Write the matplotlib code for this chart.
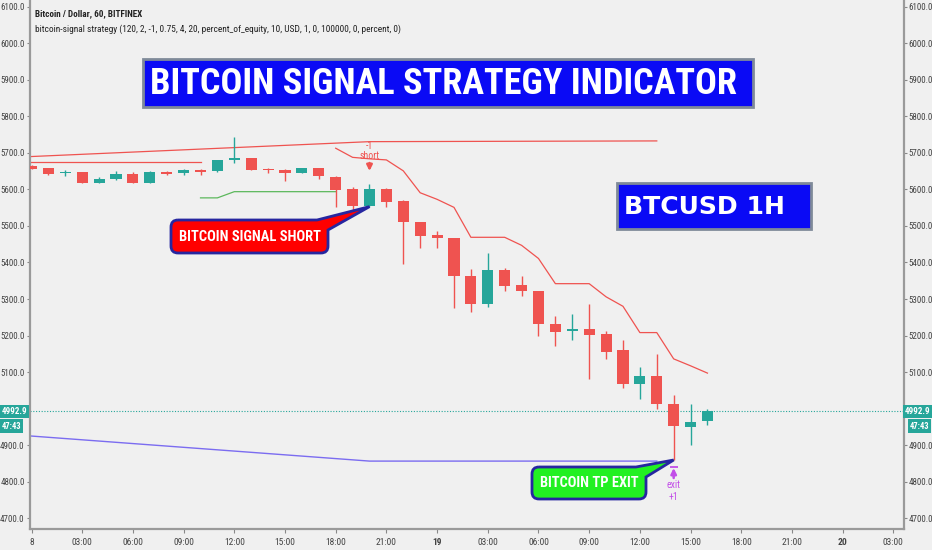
import matplotlib
matplotlib.use('Agg')
import matplotlib.pyplot as plt
from matplotlib import font_manager
from matplotlib.patches import Rectangle, PathPatch
from matplotlib.path import Path
from matplotlib.transforms import IdentityTransform, offset_copy

# ---------------- data ----------------
hours = list(range(41))
opens = [5664, 5658, 5645, 5647, 5619, 5628, 5642, 5619, 5649, 5644,
         5653, 5650, 5682, 5685, 5656, 5653, 5646, 5658, 5635, 5600,
         5555, 5600, 5568, 5511, 5474, 5466, 5363, 5286, 5379, 5338,
         5322, 5231, 5212, 5219, 5204, 5159, 5066, 5088, 5013, 4950, 4966]
highs = [5666, 5660, 5653, 5649, 5633, 5650, 5647, 5650, 5651, 5657,
         5655, 5682, 5745, 5686, 5658, 5655, 5659, 5659, 5636, 5607,
         5615, 5603, 5570, 5512, 5486, 5467, 5382, 5425, 5384, 5362,
         5323, 5253, 5260, 5287, 5212, 5187, 5115, 5150, 5038, 5013, 4999]
lows = [5656, 5640, 5638, 5617, 5617, 5626, 5617, 5618, 5641, 5640,
        5640, 5649, 5673, 5652, 5644, 5624, 5645, 5630, 5553, 5539,
        5553, 5551, 5397, 5441, 5440, 5276, 5264, 5278, 5321, 5307,
        5200, 5170, 5187, 5081, 5136, 5057, 5025, 4999, 4859, 4901, 4956]
closes = [5657, 5643, 5649, 5618, 5628, 5642, 5618, 5649, 5643, 5653,
          5647, 5681, 5686, 5654, 5652, 5645, 5658, 5636, 5599, 5555,
          5600, 5567, 5511, 5472, 5466, 5363, 5287, 5379, 5336, 5322,
          5231, 5209, 5219, 5202, 5155, 5066, 5088, 5013, 4953, 4963, 4992.9]

res_x = [-0.12, 20, 37]
res_y = [5690, 5731, 5733]
flat_x = [-0.12, 10]
flat_y = [5676, 5676]
green_x = [10, 11, 12, 18]
green_y = [5577, 5577, 5594, 5594]
stop_x = list(range(18, 41))
stop_y = [5713, 5688, 5684, 5681, 5651, 5591, 5573, 5551, 5469, 5469,
          5469, 5447, 5411, 5342, 5342, 5342, 5306, 5280, 5208, 5208,
          5136, 5117, 5097]
sup_x = [-0.12, 20, 37]
sup_y = [4925, 4856, 4856]
last_price = 4992.9
countdown = "47:43"

xtick_pos = list(range(0, 52, 3))
xtick_labels = ["8", "03:00", "06:00", "09:00", "12:00", "15:00", "18:00", "21:00",
                "19", "03:00", "06:00", "09:00", "12:00", "15:00", "18:00", "21:00",
                "20", "03:00"]
ytick_pos = list(range(4700, 6101, 100))
hidden_ytick = 5000  # covered by the last-price label

short_idx = 20
exit_idx = 38

# ---------------- style ----------------
W, H = 932, 550
BG = '#f0f0f0'
UP = '#26a69a'
DOWN = '#ef5350'
PURPLE = '#c24ee8'

names = {f.name for f in font_manager.fontManager.ttflist}
COND = 'Liberation Sans'
for cand in ['Roboto Condensed', 'Liberation Sans Narrow', 'Open Sans Condensed',
             'DejaVu Sans Condensed', 'Roboto']:
    if cand in names:
        COND = cand
        break
plt.rcParams['font.family'] = [COND, 'DejaVu Sans']

fig = plt.figure(figsize=(W / 100, H / 100), dpi=100, facecolor=BG)
ax = fig.add_axes([29.5 / W, 21 / H, (904 - 29.5) / W, 529 / H])
ax.set_facecolor(BG)
ax.set_xlim(-0.12, 51.63)
ax.set_ylim(4670, 6119)

# candles
colors = [UP if c >= o else DOWN for o, c in zip(opens, closes)]
bodies = [max(abs(c - o), 3) * (1 if c >= o else -1) for o, c in zip(opens, closes)]
ax.vlines(hours, lows, highs, colors=colors, lw=1, zorder=3)
ax.bar(hours, bodies, bottom=opens, width=0.66, color=colors, linewidth=0, zorder=4)

# indicator lines
ax.plot(res_x, res_y, color=DOWN, lw=0.9, zorder=2)
ax.plot(flat_x, flat_y, color=DOWN, lw=0.9, zorder=2)
ax.plot(green_x, green_y, color='#5cb85c', lw=0.9, zorder=2)
ax.plot(stop_x, stop_y, color=DOWN, lw=0.9, zorder=2)
ax.plot(sup_x, sup_y, color='#7b6cf0', lw=1.0, zorder=2)
ax.axhline(last_price, color=UP, lw=0.8, ls=(0, (1, 1.5)), zorder=1)

# axes styling
ax.spines['top'].set_visible(False)
for s in ['left', 'right', 'bottom']:
    ax.spines[s].set_color('#9a9a9a')
    ax.spines[s].set_linewidth(1.6)
ax.set_xticks(xtick_pos)
ax.set_xticklabels(xtick_labels)
for lab in ax.get_xticklabels():
    if lab.get_text() in ('19', '20'):
        lab.set_fontweight('bold')
ax.set_yticks(ytick_pos)
ax.set_yticklabels(["" if v == hidden_ytick else f"{v:.1f}" for v in ytick_pos])
ax.tick_params(axis='y', left=True, right=True, labelleft=True, labelright=True,
               length=2.5, width=0.8, color='#888888', labelsize=6.5, labelcolor='#444444', pad=1)
ax.tick_params(axis='x', length=3, width=0.8, color='#888888', labelsize=6.8,
               labelcolor='#444444', pad=3.5)

fig.canvas.draw()
R = fig.canvas.get_renderer()


def fit(t, width_px):
    w = t.get_window_extent(R).width
    t.set_fontsize(t.get_fontsize() * width_px / w)


def P(x, y):
    return (x, H - y)


ID = IdentityTransform()

# header texts
t = fig.text(35, H - 14, "Bitcoin / Dollar, 60, BITFINEX", transform=ID, fontsize=7,
             fontweight='bold', color='#222222', va='center', ha='left')
fit(t, 108)
t = fig.text(35, H - 29,
             "bitcoin-signal strategy (120, 2, -1, 0.75, 4, 20, percent_of_equity, 10, USD, 1, 0, 100000, 0, percent, 0)",
             transform=ID, fontsize=7, color='#222222', va='center', ha='left')
fit(t, 370)

# title boxes
fig.patches.append(Rectangle(P(143, 107), 610, 48, transform=ID, facecolor='#0a0af5',
                             edgecolor='#7f8a99', lw=2))
t = fig.text(443.5, H - 84, "BITCOIN SIGNAL STRATEGY INDICATOR", transform=ID,
             color='white', fontweight='bold', fontsize=24, ha='center', va='center')
fit(t, 587)
fig.patches.append(Rectangle(P(617, 229), 194, 46, transform=ID, facecolor='#0a0af5',
                             edgecolor='#7f8a99', lw=2))
t = fig.text(704.5, H - 207, "BTCUSD 1H", transform=ID, color='white',
             fontweight='bold', fontsize=20, ha='center', va='center', family='DejaVu Sans')
fit(t, 161)


def callout(x0, y0, x1, y1, r, a, b, tip):
    # a: point on top edge, b: point on right edge (image pixels), tip: display coords
    v = [P(x0 + r, y0), P(*a), tip, P(*b), P(x1, y1 - r), P(x1, y1), P(x1 - r, y1),
         P(x0 + r, y1), P(x0, y1), P(x0, y1 - r), P(x0, y0 + r), P(x0, y0), P(x0 + r, y0)]
    c = [Path.MOVETO, Path.LINETO, Path.LINETO, Path.LINETO, Path.LINETO,
         Path.CURVE3, Path.CURVE3, Path.LINETO, Path.CURVE3, Path.CURVE3,
         Path.LINETO, Path.CURVE3, Path.CURVE3]
    return Path(v, c)


tip1 = tuple(ax.transData.transform((hours[short_idx], lows[short_idx])))
tip2 = tuple(ax.transData.transform((hours[exit_idx], lows[exit_idx])))
fig.patches.append(PathPatch(callout(171, 220, 328, 253, 7, (317, 220), (328, 230), tip1),
                             transform=ID, facecolor='#ff0000', edgecolor='#2626a0', lw=2,
                             zorder=10))
t = fig.text(250, H - 237, "BITCOIN SIGNAL SHORT", transform=ID, color='white',
             fontweight='bold', fontsize=10, ha='center', va='center', zorder=11)
fit(t, 142)
fig.patches.append(PathPatch(callout(532, 467, 646, 499, 7, (636, 467), (646, 477), tip2),
                             transform=ID, facecolor='#22f022', edgecolor='#2626a0', lw=2,
                             zorder=10))
t = fig.text(589, H - 483, "BITCOIN TP EXIT", transform=ID, color='white',
             fontweight='bold', fontsize=10, ha='center', va='center', zorder=11)
fit(t, 99)

# signal markers
sx, sh = hours[short_idx], highs[short_idx]
ax.annotate('', xy=(sx, sh), xycoords=offset_copy(ax.transData, fig=fig, y=13, units='dots'),
            xytext=(sx, sh), textcoords=offset_copy(ax.transData, fig=fig, y=21, units='dots'),
            arrowprops=dict(arrowstyle='-|>', color=DOWN, lw=1.8, mutation_scale=8,
                            shrinkA=0, shrinkB=0))
ax.text(sx, sh, "short", transform=offset_copy(ax.transData, fig=fig, y=28, units='dots'),
        color=DOWN, fontsize=7, ha='center', va='center')
ax.text(sx, sh, "-1", transform=offset_copy(ax.transData, fig=fig, y=38, units='dots'),
        color=DOWN, fontsize=7, ha='center', va='center')

ex, el = hours[exit_idx], lows[exit_idx]
ax.annotate('', xy=(ex, el), xycoords=offset_copy(ax.transData, fig=fig, y=-8, units='dots'),
            xytext=(ex, el), textcoords=offset_copy(ax.transData, fig=fig, y=-18, units='dots'),
            arrowprops=dict(arrowstyle='-|>', color=PURPLE, lw=1.8, mutation_scale=8,
                            shrinkA=0, shrinkB=0))
ax.plot([ex], [el], marker='_', ms=6, mew=1.3, color=PURPLE,
        transform=offset_copy(ax.transData, fig=fig, y=-7, units='dots'))
ax.text(ex, el, "exit", transform=offset_copy(ax.transData, fig=fig, y=-25, units='dots'),
        color=PURPLE, fontsize=7, ha='center', va='center')
ax.text(ex, el, "+1", transform=offset_copy(ax.transData, fig=fig, y=-37, units='dots'),
        color=PURPLE, fontsize=7, ha='center', va='center')

# price labels on both scales
py = ax.transData.transform((0, last_price))[1]
for (bx, bw, cx) in [(0, 29, 14.5), (903, 29, 917.5)]:
    fig.patches.append(Rectangle((bx, py - 7), bw, 13, transform=ID, facecolor=UP,
                                 edgecolor='none', zorder=12))
    t = fig.text(cx, py - 0.5, f"{last_price:.1f}", transform=ID, color='white', fontsize=6,
                 fontweight='bold', ha='center', va='center', zorder=13)
    fit(t, 25.5)
for (bx, bw, cx) in [(0, 23, 11.5), (908, 23, 919.5)]:
    fig.patches.append(Rectangle((bx, py - 22), bw, 14, transform=ID, facecolor=UP,
                                 edgecolor='none', zorder=12))
    t = fig.text(cx, py - 15, countdown, transform=ID, color='white', fontsize=6,
                 fontweight='bold', ha='center', va='center', zorder=13)
    fit(t, 20)

fig.savefig('out.png', dpi=100, facecolor=BG)
